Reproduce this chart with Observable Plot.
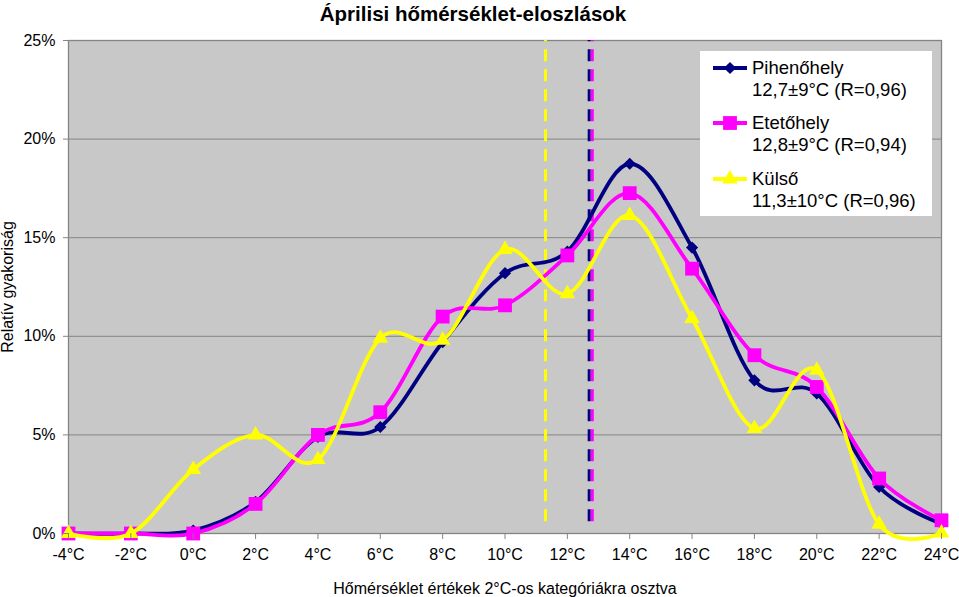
<!DOCTYPE html>
<html><head><meta charset="utf-8">
<script src="https://cdn.jsdelivr.net/npm/d3@7"></script>
<script src="https://cdn.jsdelivr.net/npm/@observablehq/plot@0.6"></script>
<style>
body{margin:0;background:#fff;font-family:"Liberation Sans",Arial,sans-serif;}
#wrap{position:relative;width:959px;height:597px;overflow:hidden;}
#title{position:absolute;left:0;width:946px;top:4px;text-align:center;font-weight:bold;font-size:20.5px;line-height:20px;color:#000;}
#legend{position:absolute;left:700px;top:51px;width:232px;height:165px;background:#fff;}
#legend .t{position:absolute;left:52px;font-size:18.5px;line-height:22px;white-space:nowrap;color:#000;}
#legend svg{position:absolute;left:0;top:0;}
</style></head>
<body>
<div id="wrap">
  <div id="chart"></div>
  <div id="title"></div>
  <div id="legend"></div>
</div>
<script>
const titleText = "Áprilisi hőmérséklet-eloszlások";
const xLabel = "Hőmérséklet értékek 2°C-os kategóriákra osztva";
const yLabel = "Relatív gyakoriság";
const temps = [-4, -2, 0, 2, 4, 6, 8, 10, 12, 14, 16, 18, 20, 22, 24];
const yTicks = [0, 5, 10, 15, 20, 25];
const seriesNames = ["Pihenőhely", "Etetőhely", "Külső"];
const seriesStats = ["12,7±9°C (R=0,96)", "12,8±9°C (R=0,94)", "11,3±10°C (R=0,96)"];
const seriesMeans = [12.7, 12.8, 11.3];
const piheno = [0, 0, 0.15, 1.6, 4.9, 5.4, 9.7, 13.2, 14.3, 18.75, 14.5, 7.77, 7.1, 2.36, 0.5];
const eteto  = [0, 0, 0, 1.5, 5.0, 6.15, 11.0, 11.57, 14.1, 17.26, 13.43, 9.04, 7.43, 2.79, 0.67];
const kulso  = [0, 0, 3.25, 5.0, 3.75, 9.9, 9.8, 14.4, 12.16, 16.13, 10.9, 5.32, 8.28, 0.47, 0.03];

const colors = ["#000080", "#ff00ff", "#ffff00"];
const symbols = ["diamond2", "square", "triangle"];
const d3symbols = [d3.symbolDiamond2, d3.symbolSquare, d3.symbolTriangle];
const radii = [5.5, 7.8, 5.8];

const allSeries = [piheno, eteto, kulso];
const data = allSeries.flatMap((vals, s) => temps.map((t, i) => ({series: seriesNames[s], s, t, v: vals[i]})));
const means = seriesMeans.map((m, s) => ({m, s}));

const marks = [
  Plot.frame({fill: "#c8c8c8"}),
  Plot.ruleY(yTicks.slice(1, -1), {stroke: "#848484", strokeWidth: 1}),
  Plot.frame({stroke: "#848484", strokeWidth: 1.3}),
  Plot.ruleX(means, {x: "m", y1: 0.6, y2: 25, stroke: d => colors[d.s], strokeWidth: 3, strokeDasharray: "12,8"}),
];
[0, 1, 2].forEach(s => {
  const d = data.filter(e => e.s === s);
  marks.push(Plot.line(d, {x: "t", y: "v", stroke: colors[s], strokeWidth: 3.8, curve: "cardinal", tension: 0}));
  marks.push(Plot.dot(d, {x: "t", y: "v", symbol: symbols[s], r: radii[s], fill: colors[s], stroke: "none"}));
});
marks.push(Plot.axisX({ticks: temps, tickFormat: d => d + "°C", tickSize: 6, tickPadding: 9, fontSize: 16,
  label: xLabel, labelAnchor: "center", labelOffset: 60, labelArrow: "none", stroke: "#848484"}));
marks.push(Plot.axisY({ticks: yTicks, tickFormat: d => d + "%", tickSize: 5, tickPadding: 8, fontSize: 16,
  label: yLabel, labelAnchor: "center", labelOffset: 67, labelArrow: "none", stroke: "#848484"}));

const chart = Plot.plot({
  width: 959, height: 597,
  marginLeft: 68, marginRight: 18, marginTop: 40, marginBottom: 64,
  x: {domain: [-4, 24]},
  y: {domain: [0, 25]},
  style: {fontFamily: "'Liberation Sans', Arial, sans-serif", color: "#000", background: "#fff", overflow: "visible"},
  marks
});
document.getElementById("chart").appendChild(chart);
document.getElementById("title").textContent = titleText;

// legend
const leg = d3.select("#legend");
const svg = leg.append("svg").attr("width", 232).attr("height", 165);
const rowY = [17, 72, 128];
seriesNames.forEach((n, s) => {
  svg.append("line").attr("x1", 13).attr("x2", 47).attr("y1", rowY[s]).attr("y2", rowY[s])
    .attr("stroke", colors[s]).attr("stroke-width", 3.8);
  svg.append("path").attr("transform", `translate(30,${rowY[s]})`)
    .attr("d", d3.symbol(d3symbols[s], Math.PI * radii[s] * radii[s])()).attr("fill", colors[s]);
  leg.append("div").attr("class", "t").style("top", (rowY[s] - 11) + "px").text(n);
  leg.append("div").attr("class", "t").style("top", (rowY[s] + 11) + "px").text(seriesStats[s]);
});
</script>
</body></html>
